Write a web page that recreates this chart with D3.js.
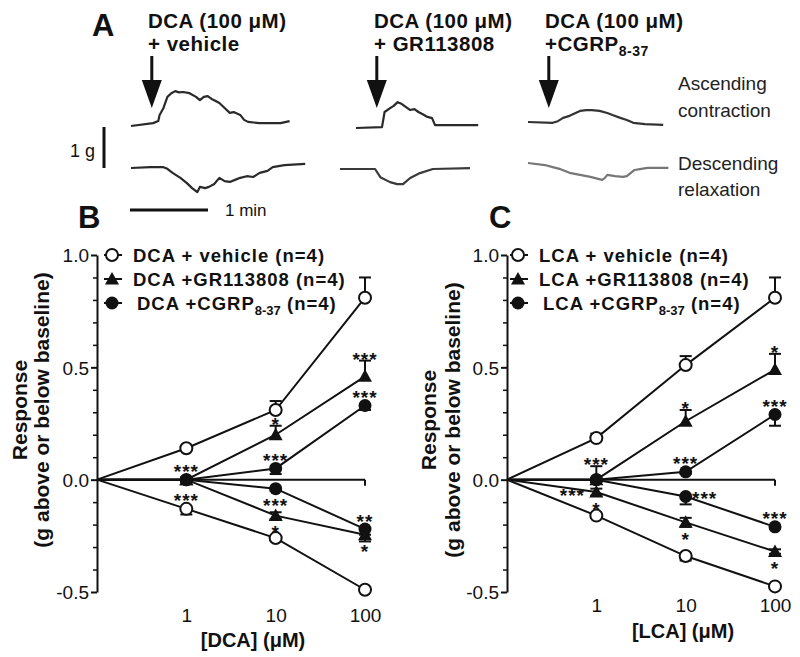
<!DOCTYPE html>
<html><head><meta charset="utf-8">
<script src="https://cdn.jsdelivr.net/npm/d3@7"></script>
<style>body{margin:0;background:#fff}svg{display:block}</style>
</head><body>
<svg id="c" width="800" height="657"></svg>
<script>
// ---------------- DATA ----------------
// Concentrations (µM); first entry is the untreated origin (0 µM) drawn at the axis
const doses = [0.1, 1, 10, 100];
const doseTicks = [1, 10, 100];
const yMajorTicks = [-0.5, 0.0, 0.5, 1.0];
const yMinorTicks = [-0.4,-0.3,-0.2,-0.1,0.1,0.2,0.3,0.4,0.6,0.7,0.8,0.9];

// Panel B (DCA)
const dcaVehicleUp     = [0, 0.14, 0.31, 0.81];  const dcaVehicleUpSem   = [0, 0.01, 0.04, 0.09];
const dcaVehicleDown   = [0, -0.13, -0.26, -0.49]; const dcaVehicleDownSem = [0, 0.025, 0.01, 0.005];
const dcaGRUp          = [0, 0, 0.20, 0.46];     const dcaGRUpSem        = [0, 0.01, 0.04, 0.07];
const dcaGRDown        = [0, 0, -0.16, -0.245];  const dcaGRDownSem      = [0, 0.01, 0.015, 0.03];
const dcaCGRPUp        = [0, 0, 0.05, 0.33];     const dcaCGRPUpSem      = [0, 0.01, 0.025, 0.02];
const dcaCGRPDown      = [0, 0, -0.04, -0.22];   const dcaCGRPDownSem    = [0, 0.01, 0.01, 0.025];

// Panel C (LCA)
const lcaVehicleUp     = [0, 0.185, 0.51, 0.81]; const lcaVehicleUpSem   = [0, 0.02, 0.04, 0.09];
const lcaVehicleDown   = [0, -0.16, -0.34, -0.475]; const lcaVehicleDownSem = [0, 0.01, 0.02, 0.01];
const lcaGRUp          = [0, 0, 0.26, 0.49];     const lcaGRUpSem        = [0, 0.06, 0.05, 0.07];
const lcaGRDown        = [0, -0.055, -0.19, -0.32]; const lcaGRDownSem   = [0, 0.015, 0.02, 0.01];
const lcaCGRPUp        = [0, 0, 0.035, 0.29];    const lcaCGRPUpSem      = [0, 0.01, 0.01, 0.05];
const lcaCGRPDown      = [0, 0, -0.075, -0.21];  const lcaCGRPDownSem    = [0, 0.01, 0.035, 0.01];

// Significance marks: [series key, dose index, text, placement]
const starsB = [
  ["vehDown",1,"***","above"], ["grUp",1,"***","above"],
  ["grUp",2,"*","above"], ["cgrpUp",2,"***","above"], ["cgrpDown",2,"***","below"], ["grDown",2,"*","below"],
  ["grUp",3,"***","above"], ["cgrpUp",3,"***","above"], ["cgrpDown",3,"**","above"], ["grDown",3,"*","below"]
];
const starsC = [
  ["grUp",1,"***","above"], ["grDown",1,"***","left"], ["grDown",1,"*","below"],
  ["grUp",2,"*","above"], ["cgrpUp",2,"***","above"], ["cgrpDown",2,"***","right"], ["grDown",2,"*","below"],
  ["grUp",3,"*","above"], ["cgrpUp",3,"***","above"], ["cgrpDown",3,"***","above"], ["grDown",3,"*","below"]
];

// Panel A traces: time (s) after trace start, force (g) relative to trace start
const injectionTime = [16, 16, 16];
const vehAscT = [0,17,21,22,25,28,31,34,37,40,45,50,53,56,59,62,64,68,72,76,79,84,87,90,99,115,122];
const vehAscF = [0,.07,.12,.27,.44,.71,.80,.85,.82,.83,.80,.71,.63,.71,.73,.66,.63,.56,.44,.32,.34,.27,.15,.10,.07,.07,.12];
const vehDesT = [0,15,25,28,32,38,43,47,51,53,57,60,64,68,72,76,80,84,89,94,99,105,109,118,134];
const vehDesF = [0,.02,.02,-.02,-.12,-.24,-.37,-.49,-.59,-.46,-.49,-.46,-.39,-.24,-.32,-.34,-.29,-.24,-.20,-.22,-.12,-.07,.02,.07,.10];
const grAscT  = [0,20,22,26.5,29,32,35,38.5,41.5,45,48,51,55,58.5,60.8,72,94];
const grAscF  = [0,.02,.39,.49,.54,.63,.59,.51,.44,.46,.39,.34,.27,.24,.07,.07,.07];
const grDesT  = [0,27,31,38.5,44,48.5,54,61.5,71.5,100];
const grDesF  = [0,0,-.20,-.32,-.37,-.37,-.22,-.10,0,.02];
const cgAscT  = [0,19,23,27,32,40,45,49,55,61,65,71,76,81,90,104];
const cgAscF  = [0,-.02,.02,.10,.15,.27,.29,.29,.27,.22,.17,.10,.05,-.02,-.05,-.07];
const cgDesT  = [0,13,19,25,32,40,48,57,59,61,67,73,76,82,86,92,108];
const cgDesF  = [0,-.05,-.10,-.15,-.24,-.29,-.34,-.41,-.37,-.29,-.32,-.34,-.32,-.17,-.15,-.12,-.12];

// ---------------- DRAW ----------------
const FONT = "'Liberation Sans', Arial, Helvetica, sans-serif";
const INK = "#111";
const svg = d3.select("#c").style("font-family", FONT);

function txt(g, x, y, s, size, weight, anchor, fill) {
  return g.append("text").attr("x", x).attr("y", y).text(s)
    .attr("font-size", size).attr("font-weight", weight || "normal")
    .attr("text-anchor", anchor || "start").attr("fill", fill || INK);
}

// ---- Panel A ----
const A = svg.append("g");
txt(A, 92, 36, "A", 31, "bold");
const traces = [
  {t: vehAscT, f: vehAscF, x0: 131, y0: 126, c: "#2a2a2a"},
  {t: vehDesT, f: vehDesF, x0: 131, y0: 168, c: "#2a2a2a"},
  {t: grAscT,  f: grAscF,  x0: 356, y0: 128, c: "#2a2a2a"},
  {t: grDesT,  f: grDesF,  x0: 340, y0: 169, c: "#3a3a3a"},
  {t: cgAscT,  f: cgAscF,  x0: 528, y0: 122, c: "#333"},
  {t: cgDesT,  f: cgDesF,  x0: 528, y0: 163, c: "#777"}
];
const pxPerMin = 78, pxPerG = 41;
traces.forEach(tr => {
  const xs = d3.scaleLinear().domain([0, 60]).range([tr.x0, tr.x0 + pxPerMin]);
  const ys = d3.scaleLinear().domain([0, 1]).range([tr.y0, tr.y0 - pxPerG]);
  tr.xs = xs;
  A.append("path")
    .attr("d", d3.line().x((d,i) => xs(tr.t[i])).y((d,i) => ys(tr.f[i])).curve(d3.curveLinear)(tr.t))
    .attr("fill", "none").attr("stroke", tr.c).attr("stroke-width", 2.2).attr("stroke-linejoin", "round");
});
// arrows at injection
[0, 2, 4].forEach((ti, k) => {
  const ax = traces[ti].xs(injectionTime[k]);
  A.append("line").attr("x1", ax).attr("x2", ax).attr("y1", 56).attr("y2", 84)
    .attr("stroke", INK).attr("stroke-width", 3);
  A.append("path").attr("d", `M${ax-10},80 L${ax+10},80 L${ax},108 Z`).attr("fill", INK);
});
// titles
const titleX = [148, 374, 545];
const TS = 20.5, TLS = 0.5;
titleX.forEach(x => txt(A, x, 28, "DCA (100 μM)", TS, "bold").attr("letter-spacing", TLS));
txt(A, 148, 51, "+ vehicle", TS, "bold").attr("letter-spacing", TLS);
txt(A, 374, 51, "+ GR113808", TS, "bold").attr("letter-spacing", TLS);
const t3 = txt(A, 545, 51, "+CGRP", TS, "bold").attr("letter-spacing", TLS);
t3.append("tspan").text("8-37").attr("font-size", 14).attr("dy", 5);
// side labels
txt(A, 678, 90, "Ascending", 19, "normal", "start", "#222");
txt(A, 678, 117, "contraction", 19, "normal", "start", "#222");
txt(A, 678, 170, "Descending", 19, "normal", "start", "#222");
txt(A, 678, 196, "relaxation", 19, "normal", "start", "#222");
// scale bars
const gBar = d3.scaleLinear().domain([0, 1]).range([168, 168 - pxPerG]);
A.append("line").attr("x1", 104).attr("x2", 104).attr("y1", gBar(0)).attr("y2", gBar(1))
  .attr("stroke", INK).attr("stroke-width", 3);
txt(A, 95, 157, "1 g", 18, "normal", "end");
const mBar = d3.scaleLinear().domain([0, 1]).range([130, 130 + pxPerMin]);
A.append("line").attr("x1", mBar(0)).attr("x2", mBar(1)).attr("y1", 210).attr("y2", 210)
  .attr("stroke", INK).attr("stroke-width", 3);
txt(A, 225, 216, "1 min", 17, "normal");

// ---- Dose-response panels ----
function drawPanel(cfg) {
  const g = svg.append("g");
  const x = d3.scaleLog().domain([0.1, 100]).range([cfg.x0, cfg.x0 + 268]);
  const y = d3.scaleLinear().domain([-0.5, 1.0]).range([592, 255]);
  txt(g, cfg.letterX, 228, cfg.letter, 31, "bold");

  // y axis
  const ax = g.append("g").attr("transform", `translate(${cfg.x0},0)`)
    .call(d3.axisLeft(y).tickValues(yMajorTicks).tickSize(6).tickSizeOuter(0).tickPadding(2)
      .tickFormat(d => d.toFixed(1)));
  ax.select(".domain").attr("stroke", INK).attr("stroke-width", 2);
  ax.selectAll(".tick line").attr("stroke", INK).attr("stroke-width", 2);
  ax.selectAll(".tick text").attr("font-size", 19).attr("font-family", FONT).attr("fill", INK).attr("dy", "0.36em");
  const mx = g.append("g").attr("transform", `translate(${cfg.x0},0)`)
    .call(d3.axisLeft(y).tickValues(yMinorTicks).tickSize(4).tickFormat(""));
  mx.select(".domain").remove();
  mx.selectAll(".tick line").attr("stroke", INK).attr("stroke-width", 1.5);

  // x axis at zero + labels at bottom
  g.append("line").attr("x1", x(0.1)).attr("x2", x(100)).attr("y1", y(0)).attr("y2", y(0))
    .attr("stroke", INK).attr("stroke-width", 2);
  g.append("line").attr("x1", x(100)).attr("x2", x(100)).attr("y1", y(0)).attr("y2", y(0) + 6)
    .attr("stroke", INK).attr("stroke-width", 2);
  const xl = g.append("g").attr("transform", `translate(0,${cfg.xLabelY})`)
    .call(d3.axisBottom(x).tickValues(doseTicks).tickSize(0).tickPadding(0).tickFormat(d3.format("d")));
  xl.select(".domain").remove();
  xl.selectAll(".tick text").attr("font-size", 19).attr("font-family", FONT).attr("fill", INK).attr("dy", 0);

  txt(g, cfg.xTitleX, cfg.xTitleY, cfg.xTitle, 20, "bold", "middle");
  // y title
  g.append("text").attr("transform", `translate(${cfg.yT1},${cfg.yTc}) rotate(-90)`)
    .attr("text-anchor", "middle").attr("font-size", 21).attr("font-weight", "bold").attr("fill", INK).text("Response");
  g.append("text").attr("transform", `translate(${cfg.yT2},${cfg.yTc}) rotate(-90)`)
    .attr("text-anchor", "middle").attr("font-size", 21).attr("font-weight", "bold").attr("fill", INK).text("(g above or below baseline)");

  const S = cfg.series;
  const line = d3.line().x((d, i) => x(doses[i])).y(d => y(d));
  const order = ["vehUp","vehDown","grUp","grDown","cgrpUp","cgrpDown"];
  order.forEach(k => {
    g.append("path").attr("d", line(S[k].v)).attr("fill", "none")
      .attr("stroke", INK).attr("stroke-width", 2);
  });
  // error bars
  order.forEach(k => {
    const s = S[k];
    s.v.forEach((v, i) => {
      if (i === 0 || !s.e[i]) return;
      const dirs = s.dir === "both" ? [1, -1] : [s.dir === "up" ? 1 : -1];
      dirs.forEach(dd => {
        const yc = y(v + dd * s.e[i]);
        g.append("line").attr("x1", x(doses[i])).attr("x2", x(doses[i])).attr("y1", y(v)).attr("y2", yc)
          .attr("stroke", INK).attr("stroke-width", 2);
        g.append("line").attr("x1", x(doses[i]) - 6).attr("x2", x(doses[i]) + 6).attr("y1", yc).attr("y2", yc)
          .attr("stroke", INK).attr("stroke-width", 2);
      });
    });
  });
  // markers
  function marker(gg, type, cx, cy) {
    if (type === "open") gg.append("circle").attr("cx", cx).attr("cy", cy).attr("r", 6)
      .attr("fill", "#fff").attr("stroke", INK).attr("stroke-width", 2);
    else if (type === "fill") gg.append("circle").attr("cx", cx).attr("cy", cy).attr("r", 6.5).attr("fill", INK);
    else gg.append("path").attr("d", `M${cx-7},${cy+5.5} L${cx+7},${cy+5.5} L${cx},${cy-7} Z`).attr("fill", INK);
  }
  order.forEach(k => {
    const s = S[k];
    s.v.forEach((v, i) => { if (i > 0) marker(g, s.m, x(doses[i]), y(v)); });
  });
  // stars
  const SF = 19;
  cfg.stars.forEach(([k, i, t, pos]) => {
    const s = S[k], v = s.v[i], px = x(doses[i]), py = y(v);
    const up = (s.dir === "up" || s.dir === "both") ? y(v + s.e[i]) : py;
    const dn = (s.dir === "down" || s.dir === "both") ? y(v - s.e[i]) : py;
    let cx = px, cy = py;
    if (pos === "above") cy = Math.min(py - 6.5, up) - 6;
    if (pos === "below") cy = Math.max(py + 6.5, dn) + 6;
    if (pos === "left") { cx = px - 24; cy = py - 1; }
    if (pos === "right") { cx = px + 19; cy = py - 3; }
    g.append("text").attr("x", cx).attr("y", cy + 0.58 * SF).text(t)
      .attr("font-size", SF).attr("font-weight", "bold").attr("text-anchor", "middle")
      .attr("letter-spacing", 1).attr("fill", INK);
  });
  // legend
  const rows = [[255, "open", cfg.drug + " + vehicle (n=4)", null, 0],
                [279, "tri", cfg.drug + " +GR113808 (n=4)", null, 0],
                [303, "fill", cfg.drug + " +CGRP", " (n=4)", 4]];
  rows.forEach(([ry, m, label, tail, ind]) => {
    g.append("line").attr("x1", cfg.legX - 8).attr("x2", cfg.legX + 10).attr("y1", ry).attr("y2", ry)
      .attr("stroke", INK).attr("stroke-width", 2);
    marker(g, m, cfg.legX, ry);
    const tt = txt(g, cfg.legX + 21 + ind, ry + 6.5, label, 18.5, "bold").attr("letter-spacing", 1);
    if (tail) {
      tt.append("tspan").text("8-37").attr("font-size", 13).attr("dy", 5).attr("letter-spacing", 0);
      tt.append("tspan").text(tail).attr("dy", -5);
    }
  });
}

drawPanel({
  x0: 97, letter: "B", letterX: 78, drug: "DCA", legX: 112,
  xLabelY: 622, xTitle: "[DCA] (μM)", xTitleX: 253, xTitleY: 647,
  yT1: 27, yT2: 49, yTc: 410,
  series: {
    vehUp:   {v: dcaVehicleUp,   e: dcaVehicleUpSem,   dir: "up",   m: "open"},
    vehDown: {v: dcaVehicleDown, e: dcaVehicleDownSem, dir: "down", m: "open"},
    grUp:    {v: dcaGRUp,        e: dcaGRUpSem,        dir: "up",   m: "tri"},
    grDown:  {v: dcaGRDown,      e: dcaGRDownSem,      dir: "both", m: "tri"},
    cgrpUp:  {v: dcaCGRPUp,      e: dcaCGRPUpSem,      dir: "down", m: "fill"},
    cgrpDown:{v: dcaCGRPDown,    e: dcaCGRPDownSem,    dir: "down", m: "fill"}
  },
  stars: starsB
});
drawPanel({
  x0: 507, letter: "C", letterX: 489, drug: "LCA", legX: 518,
  xLabelY: 612, xTitle: "[LCA] (μM)", xTitleX: 683, xTitleY: 638,
  yT1: 436, yT2: 460, yTc: 420,
  series: {
    vehUp:   {v: lcaVehicleUp,   e: lcaVehicleUpSem,   dir: "up",   m: "open"},
    vehDown: {v: lcaVehicleDown, e: lcaVehicleDownSem, dir: "down", m: "open"},
    grUp:    {v: lcaGRUp,        e: lcaGRUpSem,        dir: "up",   m: "tri"},
    grDown:  {v: lcaGRDown,      e: lcaGRDownSem,      dir: "both", m: "tri"},
    cgrpUp:  {v: lcaCGRPUp,      e: lcaCGRPUpSem,      dir: "down", m: "fill"},
    cgrpDown:{v: lcaCGRPDown,    e: lcaCGRPDownSem,    dir: "down", m: "fill"}
  },
  stars: starsC
});
</script>
</body></html>
